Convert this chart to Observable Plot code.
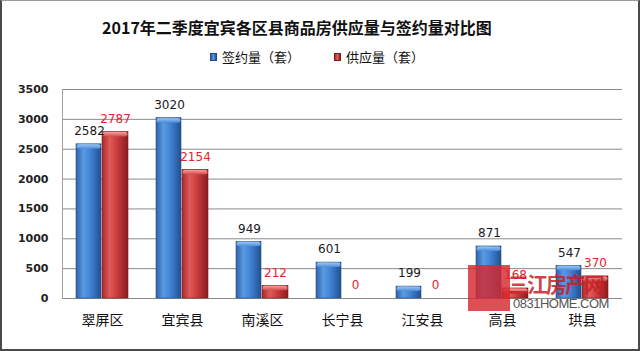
<!DOCTYPE html>
<html>
<head>
<meta charset="utf-8">
<script src="https://cdn.jsdelivr.net/npm/d3@7"></script>
<script src="https://cdn.jsdelivr.net/npm/@observablehq/plot@0.6"></script>
<style>
  html, body { margin: 0; padding: 0; background: #fff; }
  #frame { position: relative; width: 640px; height: 351px; box-sizing: border-box;
           border: 2px solid #4a4a4a; border-top: 1px solid #9a9a9a; background: #fff; overflow: hidden; }
  #title { position: absolute; left: 0; top: 16px; width: 590px; text-align: center;
           font: bold 16px "Noto Sans CJK SC", sans-serif; line-height: 20px; color: #111; }
  #legend { position: absolute; left: 0; top: 48px; width: 636px; height: 16px;
            font: 13px "Noto Sans CJK SC", sans-serif; line-height: 16px; color: #111; }
  .sw { position: absolute; top: 4px; width: 7px; height: 8px; box-sizing: border-box; }
  .lt { position: absolute; top: 0; white-space: nowrap; }
  #chart { position: absolute; left: 0; top: 74px; }
  #wm { position: absolute; left: 466px; top: 264px; width: 42px; height: 46px; background: rgba(214,40,48,0.82); }
  #wmt { position: absolute; left: 506px; top: 271px; font: bold 21px "Noto Sans CJK SC", sans-serif; line-height: 22px;
         color: rgba(200,30,40,0.85); letter-spacing: -2px; white-space: nowrap; }
  #wmu { position: absolute; left: 511px; top: 296px; font: 13px "Liberation Sans Narrow", "Liberation Sans", sans-serif;
         line-height: 13px; color: #555; letter-spacing: -0.5px; white-space: nowrap; }
</style>
</head>
<body>
<div id="frame">
  <div id="title"></div>
  <div id="legend"></div>
  <div id="chart"></div>
  <div id="wm"></div>
  <div id="wmt">三江房产网</div>
  <div id="wmu">0831HOME.COM</div>
</div>
<script>
const titleText = "2017年二季度宜宾各区县商品房供应量与签约量对比图";
const categories = ["翠屏区", "宜宾县", "南溪区", "长宁县", "江安县", "高县", "珙县"];
const seriesNames = ["签约量（套）", "供应量（套）"];
const signedValues = [2582, 3020, 949, 601, 199, 871, 547];
const supplyValues = [2787, 2154, 212, 0, 0, 168, 370];
const yTicks = [0, 500, 1000, 1500, 2000, 2500, 3000, 3500];

document.getElementById("title").textContent = titleText;

const rows = categories.map((c, i) => ({cat: c, signed: signedValues[i], supply: supplyValues[i]}));

// legend
const legend = document.getElementById("legend");
const legendItems = [
  {name: seriesNames[0], sw: "linear-gradient(90deg,#2a5ca5,#5b9be0,#23508f)", bc: "#1f4a88", x: 208},
  {name: seriesNames[1], sw: "linear-gradient(90deg,#a52a2b,#e0605c,#8a1f20)", bc: "#7e1c1d", x: 332}
];
legendItems.forEach(it => {
  const s = document.createElement("div");
  s.className = "sw"; s.style.left = it.x + "px"; s.style.background = it.sw; s.style.border = "1px solid " + it.bc;
  legend.appendChild(s);
  const t = document.createElement("div");
  t.className = "lt"; t.style.left = (it.x + 12) + "px"; t.textContent = it.name;
  legend.appendChild(t);
});

const chart = Plot.plot({
  width: 636,
  height: 272,
  marginLeft: 60,
  marginRight: 16,
  marginTop: 14,
  marginBottom: 49,
  style: {background: "transparent", fontFamily: "DejaVu Sans, sans-serif"},
  x: {domain: categories, padding: 0, label: null},
  y: {domain: [0, 3500], label: null},
  marks: [
    Plot.ruleY(yTicks, {stroke: "#8a8a8a", strokeWidth: 1}),
    Plot.frame({anchor: "left", stroke: "#a0a0a0"}),
    Plot.barY(rows, {x: "cat", y: "signed", fill: "url(#gBlue)", insetLeft: 14, insetRight: 41, stroke: "#244f8c", strokeWidth: 0.6}),
    Plot.barY(rows, {x: "cat", y: "supply", fill: "url(#gRed)", insetLeft: 40, insetRight: 14, stroke: "#7e1c1d", strokeWidth: 0.6}),
    Plot.barY(rows.filter(d => d.signed > 0), {x: "cat", y1: "signed", y2: "signed", insetLeft: 14.5, insetRight: 41.5, insetTop: 0.5, insetBottom: -5, fill: "url(#gBlueTop)", rx: 2}),
    Plot.barY(rows.filter(d => d.supply > 0), {x: "cat", y1: "supply", y2: "supply", insetLeft: 40.5, insetRight: 14.5, insetTop: 0.5, insetBottom: -5, fill: "url(#gRedTop)", rx: 2}),
    Plot.text(rows, {x: "cat", y: "signed", text: d => String(d.signed), dx: -13, dy: -13, fill: "#1a1a1a", fontSize: 12}),
    Plot.text(rows, {x: "cat", y: "supply", text: d => String(d.supply), dx: 13, dy: -13, fill: "#e8232a", fontSize: 12}),
    Plot.axisY(yTicks, {tickSize: 0, tickPadding: 14, fontSize: 11, fontWeight: "bold", fill: "#222", label: null, tickFormat: d => String(d)}),
    Plot.axisX({tickSize: 0, tickPadding: 17, fontSize: 14, fontFamily: "Noto Sans CJK SC", fill: "#111", label: null})
  ]
});

const defs = d3.select(chart).insert("defs", ":first-child");
function grad(id, stops, vertical) {
  const g = defs.append("linearGradient").attr("id", id)
    .attr("x1", 0).attr("x2", vertical ? 0 : 1).attr("y1", 0).attr("y2", vertical ? 1 : 0);
  stops.forEach(([o, c]) => g.append("stop").attr("offset", o).attr("stop-color", c));
}
grad("gBlue", [[0, "#2d62ad"], [0.3, "#5b9be0"], [0.6, "#3f7fd1"], [1, "#22508f"]]);
grad("gRed", [[0, "#a52a2b"], [0.3, "#df5b58"], [0.6, "#c63a3a"], [1, "#891e20"]]);
grad("gBlueTop", [[0, "#9cc6f2"], [1, "#4a8ad8"]], true);
grad("gRedTop", [[0, "#f2a09c"], [1, "#d24a48"]], true);

document.getElementById("chart").appendChild(chart);
</script>
</body>
</html>
